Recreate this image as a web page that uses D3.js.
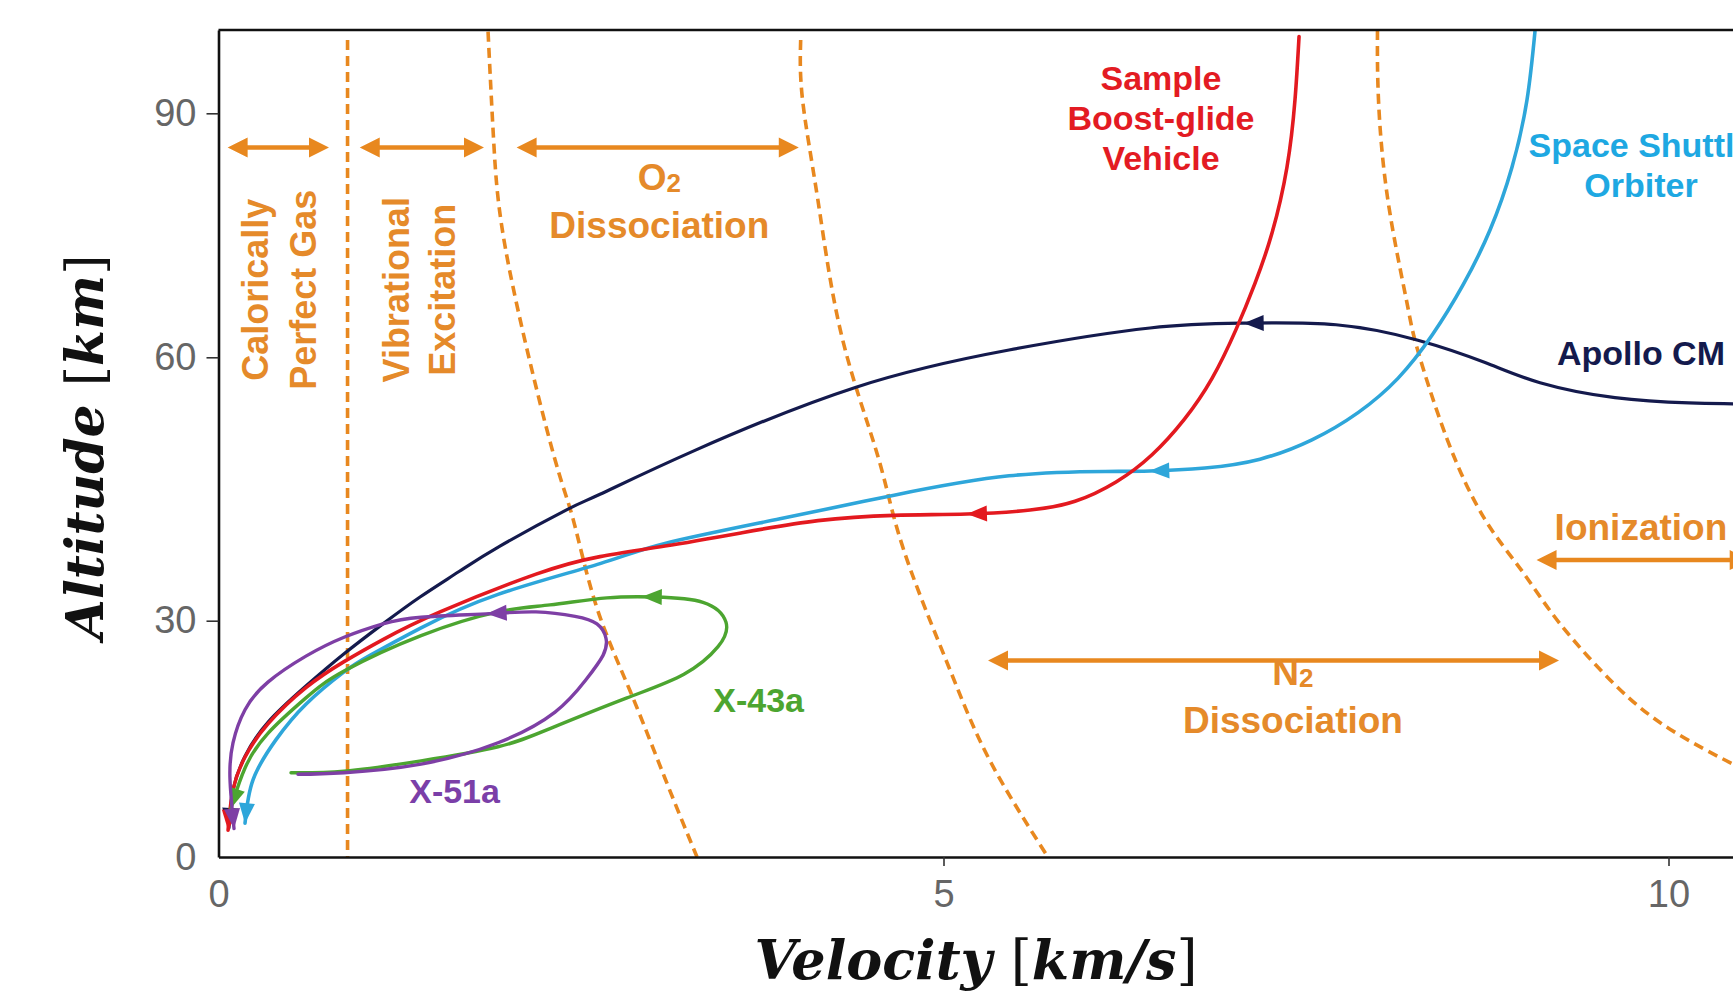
<!DOCTYPE html>
<html>
<head>
<meta charset="utf-8">
<script src="https://cdn.jsdelivr.net/npm/d3@7"></script>
<style>
  body { margin: 0; background: #fff; }
  svg { display: block; }
  .lbl { font-family: "Liberation Sans", Arial, sans-serif; font-weight: bold; }
  .title { font-family: "DejaVu Serif", serif; font-weight: bold; font-style: italic; }
</style>
</head>
<body>
<svg id="chart" width="1733" height="991"></svg>
<script>
// velocity [km/s], altitude [km] (travel order)
const xTicks = [0, 5, 10];
const yTicks = [0, 30, 60, 90];

const apollo = [
  [10.6, 54.6], [10.445, 54.7], [10.141, 54.8], [9.631, 55.4], [9.114, 57.1], [8.735, 59.4],
  [8.272, 62.1], [7.707, 64.0], [7.079, 64.2], [6.424, 63.6], [5.452, 60.9], [4.397, 56.6],
  [3.286, 49.4], [2.631, 44.4], [2.397, 42.6], [1.941, 38.5], [1.659, 35.6], [1.39, 32.7],
  [1.134, 29.6], [0.866, 25.8], [0.603, 21.7], [0.341, 17.1], [0.183, 12.8], [0.1, 8.5], [0.072, 3.7],
];
const boostGlide = [
  [7.452, 99.2], [7.424, 91.6], [7.369, 83.4], [7.266, 75.3], [7.148, 69.1], [7.017, 63.4],
  [6.852, 57.6], [6.659, 52.9], [6.438, 48.9], [6.19, 45.8], [5.907, 43.6], [5.597, 42.6],
  [5.162, 42.15], [4.659, 42.0], [4.134, 41.4], [3.603, 40.0], [3.079, 38.5],
  [2.631, 37.3], [2.19, 35.3], [1.528, 31.0], [1.134, 27.6], [0.866, 24.8], [0.603, 21.5],
  [0.341, 16.9], [0.183, 12.7], [0.1, 8.5], [0.066, 3.4],
];
const shuttle = [
  [9.079, 99.8], [9.024, 91.6], [8.921, 83.4], [8.769, 75.65], [8.583, 68.9], [8.369, 62.7],
  [8.134, 57.6], [7.859, 53.7], [7.541, 50.6], [7.183, 48.4], [6.803, 47.4], [6.424, 47.05],
  [6.114, 47.0], [5.452, 46.5], [4.659, 44.3], [3.872, 41.6], [3.079, 38.8], [2.631, 36.5],
  [1.928, 33.0], [1.397, 29.1], [1.045, 25.6], [0.866, 23.5], [0.603, 19.4], [0.397, 14.9],
  [0.238, 9.8], [0.183, 4.3],
];
const x43a = [
  [0.5, 10.7], [0.866, 10.9], [1.397, 12.2], [1.928, 14.0], [2.286, 16.3], [2.817, 20.2],
  [3.21, 23.2], [3.445, 26.7], [3.5, 29.8], [3.341, 32.1], [3.01, 32.7], [2.679, 32.6],
  [2.286, 31.8], [1.928, 31.0], [1.397, 28.1], [0.866, 23.6], [0.603, 20.2], [0.341, 15.7],
  [0.183, 11.3], [0.1, 7.0], [0.086, 6.2],
];
const x51a = [
  [0.548, 10.5], [0.866, 10.7], [1.397, 11.8], [1.928, 14.5], [2.321, 18.4], [2.534, 22.5],
  [2.652, 25.6], [2.672, 27.8], [2.61, 29.6], [2.459, 30.5], [2.19, 31.0], [1.872, 30.8],
  [1.397, 30.4], [1.134, 29.6], [0.866, 27.9], [0.603, 25.5], [0.341, 22.2], [0.183, 18.7],
  [0.1, 14.5], [0.079, 10.0], [0.107, 3.6],
];

// where the mid-course arrowheads sit
const apolloArrow = [7.07, 64.2];
const boostGlideArrow = [5.16, 42.1];
const shuttleArrow = [6.42, 47.0];
const x43aArrow = [2.92, 32.65];
const x51aArrow = [1.85, 30.8];

// gas regime boundaries (dashed)
const boundary1 = [[0.89, 98.8], [0.89, 0]];
const boundary2 = [[1.859, 99.8], [1.9, 85.9], [2.003, 71.1], [2.293, 50.0], [2.445, 41.6], [2.603, 31.8], [2.838, 21.1], [3.079, 10.0], [3.3, 0]];
const boundary3 = [[4.015, 98.8], [4.028, 91.6], [4.134, 79.3], [4.293, 63.0], [4.528, 49.8], [4.661, 41.6], [4.82, 33.7], [5.057, 23.2], [5.321, 12.2], [5.72, 0]];
const boundary4 = [[7.993, 100], [8.0, 91.6], [8.065, 79.3], [8.193, 67.0], [8.27, 60.9], [8.475, 50.6], [8.732, 41.6], [8.988, 35.7], [9.244, 29.8], [9.629, 21.9], [10.013, 16.2], [10.445, 11.8], [10.6, 10.6]];

// regime spans: [from, to, altitude]
const regimeSpans = [
  [0.063, 0.762, 85.8],
  [0.974, 1.831, 85.8],
  [2.056, 4.002, 85.8],
  [5.307, 9.245, 24.95],
  [9.09, 10.56, 36.9],
];

// regime names (rotated ones are columns)
const regimeNames = [
  { lines: ['Calorically'], v: 0.341, alt: 68.3, rotate: true },
  { lines: ['Perfect Gas'], v: 0.672, alt: 68.3, rotate: true },
  { lines: ['Vibrational'], v: 1.314, alt: 68.3, rotate: true },
  { lines: ['Excitation'], v: 1.631, alt: 68.3, rotate: true },
  { lines: ['O|2', 'Dissociation'], v: 3.04, alt: 80.6 },
  { lines: ['N|2', 'Dissociation'], v: 7.41, alt: 21.8 },
  { lines: ['Ionization'], v: 9.81, alt: 39.2 },
];

const vehicleNames = [
  { key: 'boostGlide', lines: ['Sample', 'Boost-glide', 'Vehicle'], v: 6.5, alt: 92.8 },
  { key: 'shuttle', lines: ['Space Shuttle', 'Orbiter'], v: 9.81, alt: 84.6 },
  { key: 'apollo', lines: ['Apollo CM'], v: 9.81, alt: 59.1 },
  { key: 'x43a', lines: ['X-43a'], v: 3.725, alt: 18.4 },
  { key: 'x51a', lines: ['X-51a'], v: 1.628, alt: 6.8 },
];

const colors = {
  apollo: '#141a4d',
  boostGlide: '#e3191f',
  shuttle: '#2ea6da',
  x43a: '#4ca530',
  x51a: '#7e3fa5',
};
const textColors = {
  apollo: '#141a4d',
  boostGlide: '#e31b23',
  shuttle: '#1ea8e2',
  x43a: '#4ca530',
  x51a: '#7b3fa8',
};
const ORANGE = '#e8881f';
const ORANGE_TEXT = '#e58a2a';

const x = d3.scaleLinear().domain([0, 10.6]).range([218.5, 1755.5]);
// the printed altitude axis is not evenly spaced
const y = d3.scaleLinear().domain([0, 30, 60, 90, 100]).range([857, 620.7, 357.3, 113.3, 30]);

const svg = d3.select('#chart');

svg.append('defs')
  .append('clipPath')
  .attr('id', 'plot')
  .append('rect')
  .attr('x', x(0))
  .attr('y', y(100))
  .attr('width', x(10.6) - x(0))
  .attr('height', y(0) - y(100));

const line = d3.line()
  .x((d) => x(d[0]))
  .y((d) => y(d[1]))
  .curve(d3.curveNatural);

const plot = svg.append('g').attr('clip-path', 'url(#plot)');

// dashed boundaries
plot.selectAll('.boundary')
  .data([boundary1, boundary2, boundary3, boundary4])
  .enter()
  .append('path')
  .classed('boundary', true)
  .attr('d', line)
  .attr('fill', 'none')
  .attr('stroke', ORANGE)
  .attr('stroke-width', 3.6)
  .attr('stroke-dasharray', '10,6');

// double arrows for the regimes
const HEAD_L = 20;
const HEAD_W = 10;
const spans = plot.selectAll('.span').data(regimeSpans).enter().append('g').classed('span', true);
spans.append('line')
  .attr('x1', (d) => x(d[0]) + HEAD_L - 2)
  .attr('x2', (d) => x(d[1]) - HEAD_L + 2)
  .attr('y1', (d) => y(d[2]))
  .attr('y2', (d) => y(d[2]))
  .attr('stroke', ORANGE)
  .attr('stroke-width', 4.5);
spans.append('path')
  .attr('d', (d) => {
    const a = x(d[0]);
    const b = x(d[1]);
    const h = y(d[2]);
    return `M${a},${h}L${a + HEAD_L},${h - HEAD_W}L${a + HEAD_L},${h + HEAD_W}Z` +
      `M${b},${h}L${b - HEAD_L},${h - HEAD_W}L${b - HEAD_L},${h + HEAD_W}Z`;
  })
  .attr('fill', ORANGE);

// trajectories
const trajectories = [
  { key: 'apollo', pts: apollo, mid: apolloArrow, w: 3.2 },
  { key: 'shuttle', pts: shuttle, mid: shuttleArrow, w: 3.6 },
  { key: 'boostGlide', pts: boostGlide, mid: boostGlideArrow, w: 3.6 },
  { key: 'x43a', pts: x43a, mid: x43aArrow, w: 3.4 },
  { key: 'x51a', pts: x51a, mid: x51aArrow, w: 3.4 },
];

function headAt(node, target, fromEnd) {
  const total = node.getTotalLength();
  let best = total;
  if (!fromEnd) {
    let bestD = Infinity;
    for (let l = 0; l <= total; l += 0.5) {
      const p = node.getPointAtLength(l);
      const dd = (p.x - target[0]) ** 2 + (p.y - target[1]) ** 2;
      if (dd < bestD) { bestD = dd; best = l; }
    }
  }
  const tip = node.getPointAtLength(best);
  const back = node.getPointAtLength(Math.max(0, best - 5));
  const ang = Math.atan2(tip.y - back.y, tip.x - back.x);
  const L = 20;
  const W = 8;
  const bx = tip.x - L * Math.cos(ang);
  const by = tip.y - L * Math.sin(ang);
  const px = -Math.sin(ang) * W;
  const py = Math.cos(ang) * W;
  return `M${tip.x},${tip.y}L${bx + px},${by + py}L${bx - px},${by - py}Z`;
}

trajectories.forEach((t) => {
  const path = plot.append('path')
    .datum(t.pts)
    .attr('d', line)
    .attr('fill', 'none')
    .attr('stroke', colors[t.key])
    .attr('stroke-width', t.w)
    .attr('stroke-linecap', 'round');
  const node = path.node();
  plot.append('path')
    .attr('d', headAt(node, [x(t.mid[0]), y(t.mid[1])], false))
    .attr('fill', colors[t.key]);
  plot.append('path')
    .attr('d', headAt(node, null, true))
    .attr('fill', colors[t.key]);
});

// axes
const yAxis = svg.append('g')
  .attr('transform', `translate(${x(0)},0)`)
  .call(d3.axisLeft(y).tickValues(yTicks).tickSize(12).tickPadding(10).tickSizeOuter(0));
const xAxis = svg.append('g')
  .attr('transform', `translate(0,${y(0)})`)
  .call(d3.axisBottom(x).tickValues(xTicks).tickSize(9).tickPadding(14).tickSizeOuter(0));

[xAxis, yAxis].forEach((g) => {
  g.attr('font-family', '"Liberation Sans", Arial, sans-serif').attr('font-size', 38);
  g.select('.domain').attr('stroke', '#111').attr('stroke-width', 2.6);
  g.selectAll('.tick line').attr('stroke', '#333').attr('stroke-width', 1.6);
  g.selectAll('.tick text').attr('fill', '#666');
});
yAxis.selectAll('.tick').filter((d) => d === 0).select('line').remove();
xAxis.selectAll('.tick').filter((d) => d === 0).select('line').remove();

svg.append('line')
  .attr('x1', x(0))
  .attr('x2', x(10.6))
  .attr('y1', y(100))
  .attr('y2', y(100))
  .attr('stroke', '#111')
  .attr('stroke-width', 2.6);

// labels
function writeLines(sel, lines, lh) {
  lines.forEach((ln, i) => {
    const parts = ln.split('|');
    sel.append('tspan').attr('x', 0).attr('dy', i === 0 ? 0 : lh).text(parts[0]);
    if (parts[1]) {
      sel.append('tspan').attr('font-size', 26).attr('dy', 2).text(parts[1]);
      sel.append('tspan').attr('dy', -2).text('');
    }
  });
}

regimeNames.forEach((r) => {
  const t = svg.append('text')
    .classed('lbl', true)
    .attr('fill', ORANGE_TEXT)
    .attr('text-anchor', 'middle')
    .attr('font-size', r.rotate ? 36 : 37)
    .attr('transform', `translate(${x(r.v)},${y(r.alt)})${r.rotate ? ' rotate(-90)' : ''}`);
  writeLines(t, r.lines, 46);
});

vehicleNames.forEach((n) => {
  const t = svg.append('text')
    .classed('lbl', true)
    .attr('fill', textColors[n.key])
    .attr('text-anchor', 'middle')
    .attr('font-size', 34)
    .attr('transform', `translate(${x(n.v)},${y(n.alt)})`);
  writeLines(t, n.lines, 40);
});

// axis titles
const xt = svg.append('text').classed('title', true)
  .attr('x', 976).attr('y', 979).attr('text-anchor', 'middle').attr('font-size', 54).attr('fill', '#111');
xt.append('tspan').text('Velocity ');
xt.append('tspan').attr('font-style', 'normal').attr('font-weight', 'normal').text('[');
xt.append('tspan').text('km/s');
xt.append('tspan').attr('font-style', 'normal').attr('font-weight', 'normal').text(']');

const yt = svg.append('text').classed('title', true)
  .attr('transform', 'translate(103,447) rotate(-90)')
  .attr('text-anchor', 'middle').attr('font-size', 52).attr('fill', '#111');
yt.append('tspan').text('Altitude ');
yt.append('tspan').attr('font-style', 'normal').attr('font-weight', 'normal').text('[');
yt.append('tspan').text('km');
yt.append('tspan').attr('font-style', 'normal').attr('font-weight', 'normal').text(']');
</script>
</body>
</html>
